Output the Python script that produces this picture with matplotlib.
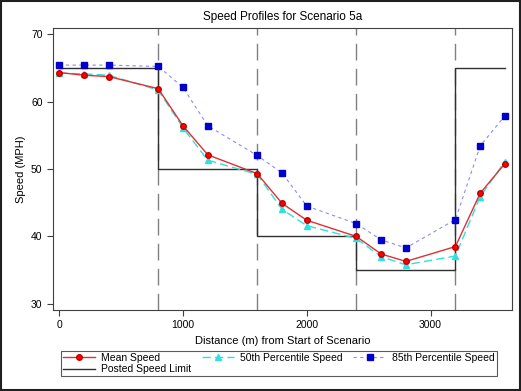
import matplotlib.pyplot as plt

plt.rcParams['font.family'] = ['Liberation Sans', 'DejaVu Sans']

# distance along scenario (m)
dist = [0, 200, 400, 800, 1000, 1200, 1600, 1800, 2000, 2400, 2600, 2800, 3200, 3400, 3600]
mean_speed = [64.3, 63.9, 63.7, 61.9, 56.4, 52.1, 49.3, 44.9, 42.4, 40.0, 37.4, 36.3, 38.5, 46.4, 50.8]
p50_speed = [64.2, 64.1, 63.9, 61.7, 56.1, 51.3, 49.2, 44.0, 41.6, 39.7, 37.0, 35.8, 37.1, 45.9, 51.1]
p85_speed = [65.4, 65.4, 65.4, 65.2, 62.1, 56.4, 52.0, 49.4, 44.5, 41.9, 39.5, 38.3, 42.5, 53.4, 57.9]

# posted limit (step) and section boundaries
limit_x = [0, 800, 800, 1600, 1600, 2400, 2400, 3200, 3200, 3600]
limit_y = [65, 65, 50, 50, 40, 40, 35, 35, 65, 65]
boundaries = [800, 1600, 2400, 3200]

fig = plt.figure(figsize=(5.21, 3.91), dpi=100)
ax = fig.add_axes([0.1017, 0.2072, 0.881, 0.7212])

for b in boundaries:
    ax.axvline(b, color='#808080', lw=1, dashes=(12, 6), zorder=1)

ax.plot(limit_x, limit_y, color='#303030', lw=1, label='Posted Speed Limit', zorder=2)
ax.plot(dist, p85_speed, color='#8c8cf0', lw=0.8, ls=(0, (3, 3)), marker='s', ms=4,
        mfc='#0000cc', mec='#0000cc', label='85th Percentile Speed', zorder=3)
ax.plot(dist, p50_speed, color='#30e0e0', lw=1, ls=(0, (6, 3)), marker='^', ms=4,
        mfc='#30e0e0', mec='#30e0e0', label='50th Percentile Speed', zorder=4)
ax.plot(dist, mean_speed, color='#e03030', lw=1, marker='o', ms=4,
        mfc='#ff0000', mec='#c00000', label='Mean Speed', zorder=5)

ax.set_xlim(-50, 3657)
ax.set_ylim(29.1, 70.9)
ax.set_xticks([0, 1000, 2000, 3000])
ax.set_yticks([30, 40, 50, 60, 70])
ax.tick_params(labelsize=7.5, length=4, color='#404040')
for s in ax.spines.values():
    s.set_color('#404040')

ax.set_title('Speed Profiles for Scenario 5a', fontsize=8.5)
ax.set_xlabel('Distance (m) from Start of Scenario', fontsize=8)
ax.set_ylabel('Speed (MPH)', fontsize=8)

h, l = ax.get_legend_handles_labels()
# column-major fill: Mean/Posted in col 1, then 50th, then 85th
order = [3, 0, 2, 1]
leg = fig.legend([h[i] for i in order], [l[i] for i in order], ncol=3, loc='lower center',
                 bbox_to_anchor=(0.535, 0.024), fontsize=7.5, frameon=True, fancybox=False,
                 edgecolor='#303030', handlelength=3.1, borderpad=0.2, labelspacing=0.15,
                 columnspacing=1.0, handletextpad=0.6)
leg.get_frame().set_linewidth(0.8)

fig.patches.append(plt.Rectangle((0.002, 0.002), 0.996, 0.996, transform=fig.transFigure,
                                 fill=False, edgecolor='#202020', lw=1.5))
fig.savefig('out.png', dpi=100)
